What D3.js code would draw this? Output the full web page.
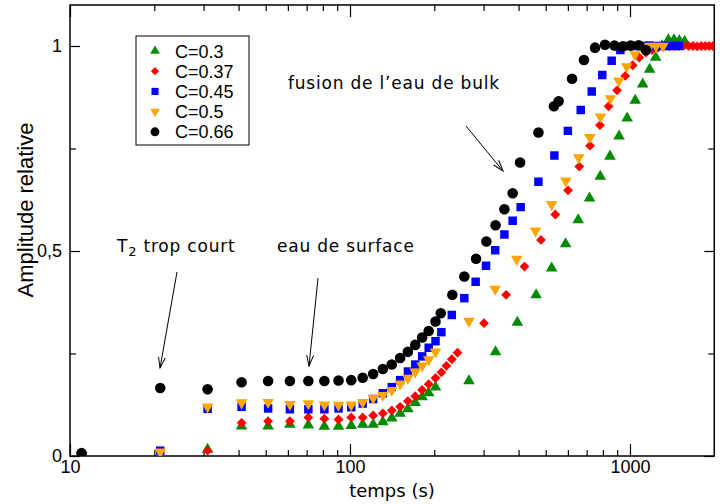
<!DOCTYPE html>
<html>
<head>
<meta charset="utf-8">
<script src="https://cdn.jsdelivr.net/npm/d3@7"></script>
<style>
  body { margin: 0; background: #fff; }
  svg { display: block; }
  .tick-label { font-family: "Liberation Sans", Arial, sans-serif; font-size: 18px; }
  .note { font-family: "DejaVu Sans", sans-serif; font-size: 17px; letter-spacing: 0.8px; }
</style>
</head>
<body>
<div id="chart"></div>
<script>
// ---- data ----
var xTicks = [10, 100, 1000];
var xMinor = [20, 30, 40, 50, 60, 70, 80, 90, 200, 300, 400, 500, 600, 700, 800, 900];
var yTicks = [0, 0.5, 1];
var yMinor = [0.25, 0.75];

var seriesNames = ['C=0.3', 'C=0.37', 'C=0.45', 'C=0.5', 'C=0.66'];

var tC030 = [31, 41, 51, 61, 71, 81, 91, 101, 111, 121, 131, 141, 151, 161, 171, 181, 191, 202,
  266, 331, 396, 462, 525, 589, 653, 717, 783, 848, 914, 977, 1044, 1110, 1175, 1235, 1300, 1371, 1436, 1500, 1568];
var aC030 = [0.016, 0.073, 0.073, 0.077, 0.075, 0.072, 0.072, 0.074, 0.077, 0.077, 0.083, 0.092, 0.104, 0.115, 0.130, 0.144, 0.154, 0.168,
  0.183, 0.254, 0.326, 0.393, 0.458, 0.517, 0.576, 0.629, 0.682, 0.731, 0.780, 0.824, 0.867, 0.907, 0.943, 0.972, 1.0, 1.015, 1.015, 1.013, 1.011];

var tC037 = [31, 41, 51, 61, 71, 81, 91, 101, 111, 121, 131, 141, 151, 161, 171, 181, 191, 202, 212, 221, 231, 242,
  301, 361, 420, 481, 541, 601, 659, 720, 781, 839, 899, 962, 1022, 1079, 1140, 1198, 1258, 1318, 1378, 1438, 1498,
  1558, 1618, 1678, 1738, 1798, 1858, 1918, 1978];
var aC037 = [0.013, 0.081, 0.085, 0.085, 0.094, 0.091, 0.089, 0.094, 0.094, 0.099, 0.104, 0.111, 0.120, 0.134, 0.146, 0.161, 0.175, 0.190, 0.204, 0.220, 0.236, 0.252,
  0.324, 0.393, 0.462, 0.527, 0.589, 0.648, 0.706, 0.757, 0.807, 0.853, 0.892, 0.927, 0.953, 0.972, 0.984, 0.990, 0.996, 0.999, 1.0, 1.0, 1.0,
  1.001, 1.0, 1.0, 0.999, 1.0, 1.0, 1.0, 1.0];

var tC045 = [21, 31, 41, 51, 61, 71, 81, 91, 101, 111, 121, 131, 141, 151, 161, 171, 181, 191, 202, 212,
  231, 256, 281, 306, 330, 356, 381, 407, 471, 537, 600, 667, 730, 796, 860, 924, 976, 1040, 1105, 1170, 1235, 1300, 1365, 1430, 1495];
var aC045 = [0.013, 0.115, 0.120, 0.116, 0.114, 0.114, 0.114, 0.116, 0.119, 0.128, 0.139, 0.153, 0.168, 0.185, 0.206, 0.223, 0.243, 0.264, 0.280, 0.302,
  0.344, 0.385, 0.425, 0.464, 0.502, 0.540, 0.574, 0.607, 0.669, 0.733, 0.793, 0.844, 0.889, 0.929, 0.964, 0.990, 1.0, 1.0, 1.0, 1.001, 1.0, 1.0, 1.0, 1.0, 1.0];

var tC050 = [11, 21, 31, 41, 51, 61, 71, 81, 91, 101, 111, 121, 131, 141, 151, 161, 171, 181, 191, 202,
  266, 330, 394, 460, 525, 590, 656, 719, 785, 851, 912, 973, 1042, 1112, 1175, 1238, 1312];
var aC050 = [0.004, 0.010, 0.120, 0.130, 0.131, 0.126, 0.128, 0.125, 0.124, 0.125, 0.131, 0.141, 0.148, 0.160, 0.176, 0.190, 0.205, 0.220, 0.235, 0.254,
  0.329, 0.407, 0.480, 0.549, 0.614, 0.671, 0.728, 0.777, 0.827, 0.872, 0.915, 0.950, 0.979, 0.995, 1.0, 1.0, 1.0];

var tC066 = [11, 21, 31, 41, 51, 61, 71, 81, 91, 101, 111, 121, 131, 141, 151, 161, 171, 181, 191, 202, 211,
  232, 256, 282, 307, 331, 356, 381, 405, 471, 535, 556, 621, 685, 750, 814, 880, 942, 1006, 1074, 1140];
var aC066 = [0.007, 0.166, 0.163, 0.180, 0.183, 0.183, 0.183, 0.183, 0.184, 0.185, 0.191, 0.200, 0.212, 0.223, 0.239, 0.254, 0.271, 0.289, 0.305, 0.328, 0.348,
  0.393, 0.438, 0.481, 0.523, 0.563, 0.602, 0.641, 0.716, 0.789, 0.853, 0.865, 0.920, 0.966, 0.996, 1.003, 1.001, 0.999, 1.001, 1.002, 0.990];

// ---- layout ----
var width = 720, height = 504;
var plotLeft = 70, plotTop = 5, plotBottom = 456;
var plotRight = plotLeft + 280 * Math.log10(200);

var svg = d3.select('#chart').append('svg')
    .attr('width', width).attr('height', height);

var x = d3.scaleLog().domain([10, 2000]).range([plotLeft, plotRight]);
var y = d3.scaleLinear().domain([0, 1.1]).range([plotBottom, plotTop]);

var fmtY = function(d){ return String(d).replace('.', ','); };

// frame
svg.append('rect')
    .attr('x', plotLeft).attr('y', plotTop)
    .attr('width', plotRight - plotLeft).attr('height', plotBottom - plotTop)
    .attr('fill', 'none').attr('stroke', '#000').attr('stroke-width', 1.5);

var styleAxis = function(g){
  g.select('.domain').remove();
  g.selectAll('line').attr('stroke', '#000').attr('stroke-width', 1.2);
  g.selectAll('text').attr('class', 'tick-label').attr('fill', '#000');
};

// bottom / top
svg.append('g').attr('transform', 'translate(0,' + plotBottom + ')')
    .call(d3.axisBottom(x).tickValues(xTicks).tickSize(-12).tickPadding(4).tickFormat(d3.format('d')))
    .call(styleAxis);
svg.append('g').attr('transform', 'translate(0,' + plotBottom + ')')
    .call(d3.axisBottom(x).tickValues(xMinor).tickSize(-6).tickFormat(''))
    .call(styleAxis);
svg.append('g').attr('transform', 'translate(0,' + plotTop + ')')
    .call(d3.axisTop(x).tickValues(xTicks).tickSize(-12).tickFormat(''))
    .call(styleAxis);
svg.append('g').attr('transform', 'translate(0,' + plotTop + ')')
    .call(d3.axisTop(x).tickValues(xMinor).tickSize(-6).tickFormat(''))
    .call(styleAxis);

// left / right
svg.append('g').attr('transform', 'translate(' + plotLeft + ',0)')
    .call(d3.axisLeft(y).tickValues(yTicks).tickSize(-10).tickPadding(8).tickFormat(fmtY))
    .call(styleAxis);
svg.append('g').attr('transform', 'translate(' + plotLeft + ',0)')
    .call(d3.axisLeft(y).tickValues(yMinor).tickSize(-6).tickFormat(''))
    .call(styleAxis);
svg.append('g').attr('transform', 'translate(' + plotRight + ',0)')
    .call(d3.axisRight(y).tickValues(yTicks).tickSize(-10).tickFormat(''))
    .call(styleAxis);
svg.append('g').attr('transform', 'translate(' + plotRight + ',0)')
    .call(d3.axisRight(y).tickValues(yMinor).tickSize(-6).tickFormat(''))
    .call(styleAxis);

// axis titles
svg.append('text')
    .attr('x', 392).attr('y', 497)
    .attr('text-anchor', 'middle')
    .style('font-family', '"DejaVu Sans", sans-serif')
    .style('font-size', '18px')
    .text('temps (s)');

svg.append('text')
    .attr('transform', 'translate(33,210) rotate(-90)')
    .attr('text-anchor', 'middle')
    .style('font-family', '"Liberation Sans", Arial, sans-serif')
    .style('font-size', '22px')
    .text('Amplitude relative');

// ---- symbols ----
var series = [
  {name: seriesNames[0], t: tC030, a: aC030, color: '#008b00', sym: d3.symbolTriangle, size: 58, rot: 0},
  {name: seriesNames[1], t: tC037, a: aC037, color: '#ff0000', sym: d3.symbolSquare, size: 48, rot: 45},
  {name: seriesNames[2], t: tC045, a: aC045, color: '#0000ff', sym: d3.symbolSquare, size: 72, rot: 0},
  {name: seriesNames[3], t: tC050, a: aC050, color: '#ffa500', sym: d3.symbolTriangle, size: 58, rot: 180},
  {name: seriesNames[4], t: tC066, a: aC066, color: '#000000', sym: d3.symbolCircle, size: 88, rot: 0}
];

svg.append('clipPath').attr('id', 'plotclip')
  .append('rect').attr('x', plotLeft).attr('y', plotTop)
  .attr('width', plotRight - plotLeft).attr('height', plotBottom - plotTop);

var plot = svg.append('g').attr('clip-path', 'url(#plotclip)');

series.forEach(function(s){
  var pts = s.t.map(function(t, i){ return {t: t, a: s.a[i]}; });
  plot.append('g').selectAll('path')
      .data(pts)
    .enter().append('path')
      .attr('d', d3.symbol().type(s.sym).size(s.size))
      .attr('transform', function(d){
        return 'translate(' + x(d.t) + ',' + y(d.a) + ') rotate(' + s.rot + ')';
      })
      .attr('fill', s.color);
});

// ---- legend ----
var legend = svg.append('g');
legend.append('rect')
    .attr('x', 136).attr('y', 36).attr('width', 113).attr('height', 109)
    .attr('fill', '#fff').attr('stroke', '#000').attr('stroke-width', 1);

series.forEach(function(s, i){
  var ly = 51 + i * 20.2;
  legend.append('path')
      .attr('d', d3.symbol().type(s.sym).size(s.size * 0.7))
      .attr('transform', 'translate(155,' + ly + ') rotate(' + s.rot + ')')
      .attr('fill', s.color);
  legend.append('text')
      .attr('x', 175).attr('y', ly + 6.5)
      .style('font-family', '"Liberation Sans", Arial, sans-serif')
      .style('font-size', '18px')
      .text(s.name);
});

// ---- annotations ----
var defs = svg.append('defs');
defs.append('marker')
    .attr('id', 'arrow')
    .attr('viewBox', '0 0 12 10')
    .attr('refX', 11).attr('refY', 5)
    .attr('markerWidth', 12).attr('markerHeight', 10)
    .attr('markerUnits', 'userSpaceOnUse')
    .attr('orient', 'auto')
  .append('path')
    .attr('d', 'M0,1.5 L11,5 L0,8.5')
    .attr('fill', 'none').attr('stroke', '#000').attr('stroke-width', 1);

var arrows = [
  [466, 126, 503, 171],
  [177, 272, 160, 368],
  [318, 278, 309, 366]
];
svg.selectAll('.arr').data(arrows).enter().append('line')
    .attr('class', 'arr')
    .attr('x1', function(d){ return d[0]; }).attr('y1', function(d){ return d[1]; })
    .attr('x2', function(d){ return d[2]; }).attr('y2', function(d){ return d[3]; })
    .attr('stroke', '#000').attr('stroke-width', 1)
    .attr('marker-end', 'url(#arrow)');

svg.append('text').attr('class', 'note')
    .attr('x', 288).attr('y', 89)
    .text('fusion de l\u2019eau de bulk');

svg.append('text').attr('class', 'note')
    .attr('x', 277).attr('y', 252)
    .text('eau de surface');

var t2 = svg.append('text').attr('class', 'note')
    .attr('x', 117).attr('y', 252);
t2.append('tspan').text('T');
t2.append('tspan').attr('dy', 4).style('font-size', '13px').text('2');
t2.append('tspan').attr('dy', -4).text(' trop court');
</script>
</body>
</html>
